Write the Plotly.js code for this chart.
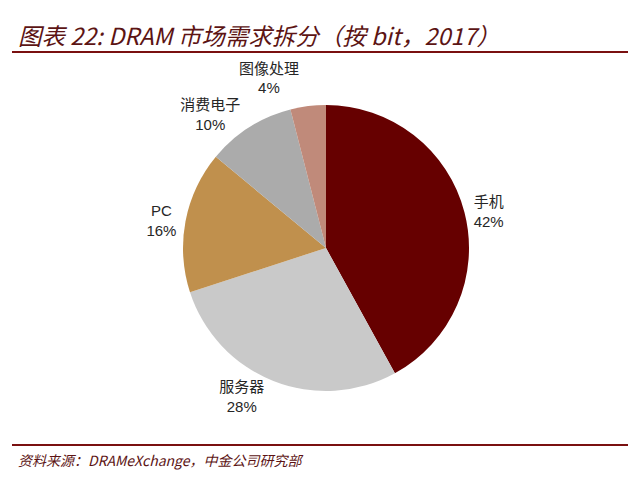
<!DOCTYPE html>
<html><head><meta charset="utf-8">
<script src="https://cdn.plot.ly/plotly-3.0.1.min.js"></script>
<style>html,body{margin:0;padding:0;background:#fff}#chart{width:640px;height:477px}
.pielayer path.textline{display:none !important}</style>
</head><body><div id="chart"></div>
<script>
const categories = ['手机', '服务器', 'PC', '消费电子', '图像处理'];
const shares = [42, 28, 16, 10, 4];
const sliceColors = ['#660000', '#C9C9C9', '#C0904D', '#ABABAB', '#C08A7A'];
const titleText = '图表 22: DRAM 市场需求拆分（按 bit，2017）';
const sourceText = '资料来源：DRAMeXchange，中金公司研究部';

const W = 640, H = 477;
const cx = 326, cy = 248, r = 143;

const trace = {
  type: 'pie',
  labels: categories,
  values: shares,
  sort: false,
  direction: 'clockwise',
  rotation: 0,
  marker: {colors: sliceColors, line: {width: 0}},
  textposition: 'outside',
  texttemplate: '%{label}<br>%{value}%',
  textfont: {family: 'Liberation Sans, Arial, Noto Sans CJK SC', size: 15, color: '#262626'},
  hoverinfo: 'none',
  showlegend: false,
  domain: {x: [(cx - r) / W, (cx + r) / W], y: [1 - (cy + r) / H, 1 - (cy - r) / H]}
};

const layout = {
  width: W, height: H,
  margin: {l: 0, r: 0, t: 0, b: 0},
  paper_bgcolor: '#fff',
  showlegend: false,
  annotations: [
    {text: titleText, xref: 'paper', yref: 'paper', x: 16 / W, y: 1 - 35 / H, xanchor: 'left', yanchor: 'middle', showarrow: false,
     font: {family: 'Noto Sans CJK SC, Liberation Sans', size: 23.5, color: '#5C1414', style: 'italic'}},
    {text: sourceText, xref: 'paper', yref: 'paper', x: 16 / W, y: 1 - 460 / H, xanchor: 'left', yanchor: 'middle', showarrow: false,
     font: {family: 'Noto Sans CJK SC, Liberation Sans', size: 14, color: '#5C1414', style: 'italic'}}
  ],
  shapes: [
    {type: 'line', xref: 'paper', yref: 'paper', x0: 12 / W, x1: 628 / W, y0: 1 - 52 / H, y1: 1 - 52 / H, line: {color: '#7A1010', width: 2}},
    {type: 'line', xref: 'paper', yref: 'paper', x0: 12 / W, x1: 628 / W, y0: 1 - 445 / H, y1: 1 - 445 / H, line: {color: '#7A1010', width: 2}}
  ]
};

Plotly.newPlot('chart', [trace], layout, {staticPlot: true, displayModeBar: false});
</script></body></html>
